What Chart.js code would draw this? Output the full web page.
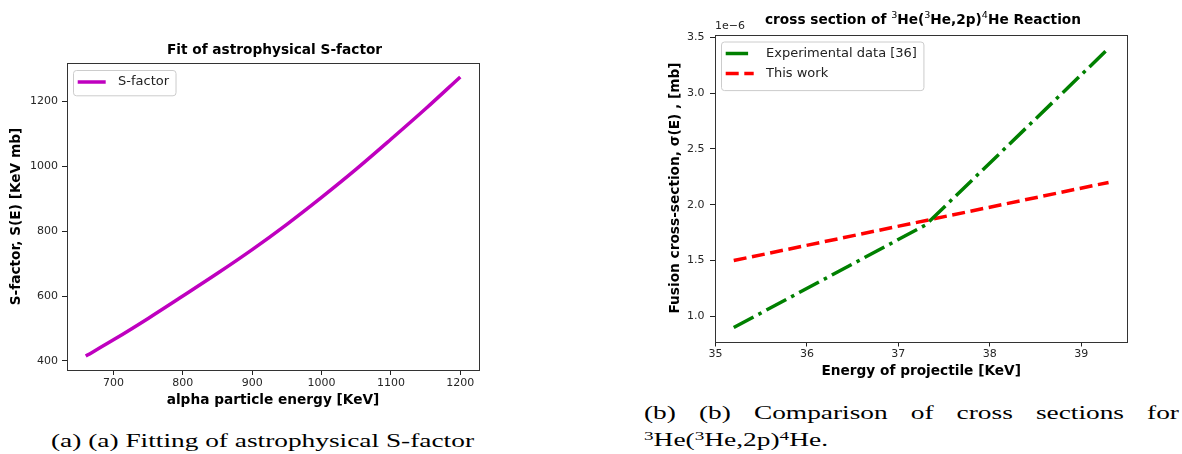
<!DOCTYPE html>
<html>
<head>
<meta charset="utf-8">
<script src="https://cdn.jsdelivr.net/npm/chart.js@4.4.1/dist/chart.umd.min.js"></script>
<style>
  body { margin: 0; background: #fff; width: 1182px; height: 454px; overflow: hidden; position: relative; }
  canvas { position: absolute; }
  #chartS { left: 0; top: 0; }
  #chartX { left: 640px; top: 0; }
  .cap { position: absolute; font-family: "Liberation Serif", serif; font-size: 18px; color: #000; white-space: nowrap; line-height: 1; transform-origin: 0 0; }
  #capA { left: 51px; top: 431.5px; }
  #capB1 { left: 644px; top: 403.5px; text-align: justify; text-align-last: justify; white-space: normal; }
  #capB2 { left: 644px; top: 430.5px; }
  sup { font-size: 0.7em; vertical-align: 0.45em; line-height: 0; }
</style>
</head>
<body>
<canvas id="chartS" width="490" height="412"></canvas>
<canvas id="chartX" width="542" height="390"></canvas>
<div class="cap" id="capA">(a) (a) Fitting of astrophysical S-factor</div>
<div class="cap" id="capB1">(b) (b) Comparison of cross sections for</div>
<div class="cap" id="capB2"><sup>3</sup>He(<sup>3</sup>He,2p)<sup>4</sup>He.</div>
<script>
// (a) fit of the S-factor
var alphaEnergy = [660, 700, 750, 800, 850, 900, 950, 1000, 1050, 1100, 1150, 1200];
var sFactor = [415, 465, 531, 600, 670, 743, 821, 904, 991, 1083, 1177, 1275];
var sTicksX = [700, 800, 900, 1000, 1100, 1200];
var sTicksY = [400, 600, 800, 1000, 1200];

// (b) cross sections, y in units of 1e-6 mb
var expEnergy = [35.2, 37.3, 39.3];
var expSigma = [0.90, 1.82, 3.40];
var workEnergy = [35.2, 39.3];
var workSigma = [1.50, 2.20];
var xsTicksX = [35, 36, 37, 38, 39];
var xsTicksY = [1.0, 1.5, 2.0, 2.5, 3.0, 3.5];

var FONT = '"DejaVu Sans", sans-serif';

// captions are stretched sideways in the original, fit them to their widths
function stretch(el, target) {
    var s = target / el.getBoundingClientRect().width;
    el.style.transform = 'scaleX(' + s + ')';
    return s;
}
var capScale = stretch(document.getElementById('capA'), 423);
var b1 = document.getElementById('capB1');
b1.style.width = (535 / capScale) + 'px';
b1.style.transform = 'scaleX(' + capScale + ')';
stretch(document.getElementById('capB2'), 184);

// matplotlib style 5% margins
function limits(vals) {
    var lo = Math.min.apply(null, vals), hi = Math.max.apply(null, vals);
    var m = (hi - lo) * 0.05;
    return [lo - m, hi + m];
}
function pts(xs, ys) {
    return xs.map(function (x, i) { return {x: x, y: ys[i]}; });
}

function makeAxis(lim, ticks, label, fmt, fit, titlePad, tickPad) {
    return {
        type: 'linear',
        min: lim[0],
        max: lim[1],
        afterBuildTicks: function (scale) {
            scale.ticks = ticks.map(function (v) { return {value: v}; });
        },
        afterFit: fit,
        grid: {drawOnChartArea: false, drawTicks: true, tickLength: 5, color: '#222'},
        border: {display: false},
        ticks: {
            color: '#262626', padding: tickPad, maxRotation: 0, autoSkip: false,
            font: {family: FONT, size: 11},
            callback: fmt
        },
        title: {
            display: true, text: label, color: '#000',
            font: {family: FONT, size: 13.7, weight: 'bold'},
            padding: titlePad
        }
    };
}

// frame, title and legend box drawn on top
function decorations(title, legendH, extra) {
    return {
        id: 'decor',
        afterDatasetsDraw: function (chart) {
            var ctx = chart.ctx, a = chart.chartArea;
            ctx.save();
            ctx.strokeStyle = '#333';
            ctx.lineWidth = 1;
            ctx.strokeRect(Math.round(a.left) + 0.5, Math.round(a.top) + 0.5,
                Math.round(a.right - a.left), Math.round(a.bottom - a.top));

            // title with optional superscripts
            var size = 13.7, w = 0;
            title.parts.forEach(function (p) {
                ctx.font = p[1] ? (size * 0.7) + 'px ' + FONT : 'bold ' + size + 'px ' + FONT;
                p.w = ctx.measureText(p[0]).width;
                w += p.w;
            });
            var x = title.cx - w / 2;
            ctx.fillStyle = '#000';
            ctx.textBaseline = 'middle';
            ctx.textAlign = 'left';
            title.parts.forEach(function (p) {
                ctx.font = p[1] ? (size * 0.7) + 'px ' + FONT : 'bold ' + size + 'px ' + FONT;
                ctx.fillText(p[0], x, title.cy - (p[1] ? size * 0.38 : 0));
                x += p.w;
            });
            if (extra) extra(ctx, a);

            // legend
            var ds = chart.data.datasets;
            ctx.font = '13px ' + FONT;
            var tw = 0;
            ds.forEach(function (d) { tw = Math.max(tw, ctx.measureText(d.label).width); });
            var bx = a.left + 6, by = a.top + 7, bw = 45 + tw + 6.5;
            ctx.beginPath();
            ctx.roundRect(bx + 0.5, by + 0.5, bw, legendH, 3);
            ctx.fillStyle = 'rgba(255,255,255,0.8)';
            ctx.fill();
            ctx.strokeStyle = '#cccccc';
            ctx.stroke();
            ds.forEach(function (d, i) {
                var y = by + 12 + i * 20;
                ctx.beginPath();
                ctx.setLineDash(d.borderDash || []);
                ctx.lineCap = 'butt';
                ctx.strokeStyle = d.borderColor;
                ctx.lineWidth = d.borderWidth;
                ctx.moveTo(a.left + 10.7, y);
                ctx.lineTo(a.left + 38.7, y);
                ctx.stroke();
                ctx.setLineDash([]);
                ctx.fillStyle = '#222';
                ctx.fillText(d.label, a.left + 51, y);
            });
            ctx.restore();
        }
    };
}

var common = {
    responsive: false,
    animation: false,
    devicePixelRatio: 1,
    plugins: {legend: {display: false}, title: {display: false}, tooltip: {enabled: false}}
};

new Chart(document.getElementById('chartS').getContext('2d'), {
    type: 'line',
    data: {
        datasets: [{
            label: 'S-factor',
            data: pts(alphaEnergy, sFactor),
            borderColor: '#bf00bf',
            borderWidth: 3.5,
            pointRadius: 0,
            cubicInterpolationMode: 'monotone',
            fill: false
        }]
    },
    options: Object.assign({}, common, {
        layout: {padding: {left: 0, right: 11, top: 63, bottom: 0}},
        scales: {
            x: makeAxis(limits(alphaEnergy), sTicksX, 'alpha particle energy [KeV]',
                function (v) { return String(v); },
                function (s) { s.height = 42; }, {top: 0, bottom: 3.8}, 1.7),
            y: makeAxis(limits(sFactor), sTicksY, 'S-factor, S(E) [KeV mb]',
                function (v) { return String(v); },
                function (s) { s.width = 67; }, {top: 8.5, bottom: 0}, 4)
        }
    }),
    plugins: [decorations({cx: 274.5, cy: 50.7, parts: [['Fit of astrophysical S-factor', false]]}, 25.3)]
});

new Chart(document.getElementById('chartX').getContext('2d'), {
    type: 'line',
    data: {
        datasets: [{
            label: 'Experimental data [36]',
            data: pts(expEnergy, expSigma),
            borderColor: '#008000',
            borderWidth: 3.5,
            borderDash: [22.4, 5.6, 3.5, 5.6],
            borderCapStyle: 'butt',
            pointRadius: 0,
            fill: false
        }, {
            label: 'This work',
            data: pts(workEnergy, workSigma),
            borderColor: '#ff0000',
            borderWidth: 3.5,
            borderDash: [13, 5.6],
            borderCapStyle: 'butt',
            pointRadius: 0,
            fill: false
        }]
    },
    options: Object.assign({}, common, {
        layout: {padding: {left: 0, right: 54.7, top: 34.5, bottom: 0}},
        scales: {
            x: makeAxis(limits(expEnergy.concat(workEnergy)), xsTicksX, 'Energy of projectile [KeV]',
                function (v) { return String(v); },
                function (s) { s.height = 48.5; }, {top: 0, bottom: 10.8}, 1),
            y: makeAxis(limits(expSigma.concat(workSigma)), xsTicksY, 'Fusion cross-section, \u03c3(E) , [mb]',
                function (v) { return v.toFixed(1); },
                function (s) { s.width = 75; }, {top: 26.8, bottom: 0}, 5.5)
        }
    }),
    plugins: [decorations({cx: 283, cy: 20.7, parts: [
        ['cross section of ', false], ['3', true], ['He(', false], ['3', true],
        ['He,2p)', false], ['4', true], ['He Reaction', false]
    ]}, 48.6, function (ctx, a) {
        ctx.font = '11px ' + FONT;
        ctx.fillStyle = '#262626';
        ctx.textAlign = 'left';
        ctx.fillText('1e\u22126', a.left, 26);
    })]
});
</script>
</body>
</html>
